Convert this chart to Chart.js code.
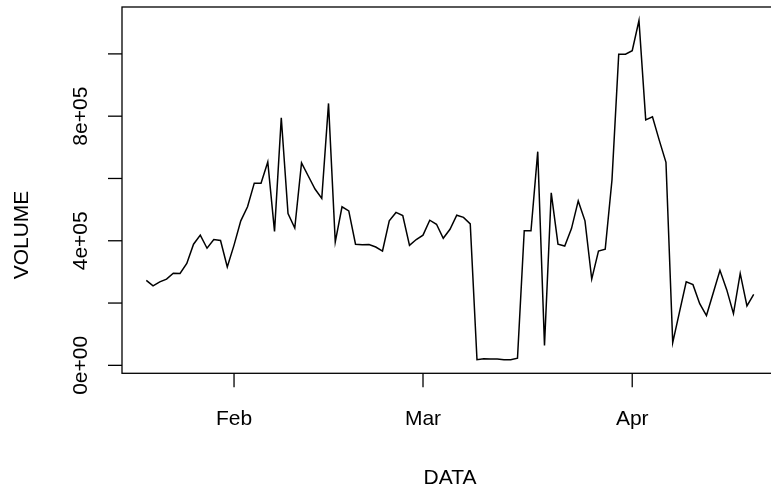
<!DOCTYPE html>
<html>
<head>
<meta charset="utf-8">
<script src="https://cdn.jsdelivr.net/npm/chart.js@4/dist/chart.umd.min.js"></script>
<style>
  html, body { margin: 0; padding: 0; background: #fff; overflow: hidden; width: 771px; height: 492px; }
  canvas { display: block; }
</style>
</head>
<body>
<canvas id="c" width="800" height="492"></canvas>
<script>
// ---- data ----
const dates = [
  '2019-01-19','2019-01-20','2019-01-21','2019-01-22','2019-01-23','2019-01-24','2019-01-25','2019-01-26','2019-01-27','2019-01-28','2019-01-29','2019-01-30','2019-01-31',
  '2019-02-01','2019-02-02','2019-02-03','2019-02-04','2019-02-05','2019-02-06','2019-02-07','2019-02-08','2019-02-09','2019-02-10','2019-02-11','2019-02-12','2019-02-13','2019-02-14',
  '2019-02-15','2019-02-16','2019-02-17','2019-02-18','2019-02-19','2019-02-20','2019-02-21','2019-02-22','2019-02-23','2019-02-24','2019-02-25','2019-02-26','2019-02-27','2019-02-28',
  '2019-03-01','2019-03-02','2019-03-03','2019-03-04','2019-03-05','2019-03-06','2019-03-07','2019-03-08','2019-03-09','2019-03-10','2019-03-11','2019-03-12','2019-03-13','2019-03-14',
  '2019-03-15','2019-03-16','2019-03-17','2019-03-18','2019-03-19','2019-03-20','2019-03-21','2019-03-22','2019-03-23','2019-03-24','2019-03-25','2019-03-26','2019-03-27','2019-03-28',
  '2019-03-29','2019-03-30','2019-03-31',
  '2019-04-01','2019-04-02','2019-04-03','2019-04-04','2019-04-05','2019-04-06','2019-04-07','2019-04-08','2019-04-09','2019-04-10','2019-04-11','2019-04-12','2019-04-13','2019-04-14',
  '2019-04-15','2019-04-16','2019-04-17','2019-04-18','2019-04-19'
];
const volume = [
  273000,255000,268000,277000,296000,295000,327000,389000,418000,376000,404000,401000,316000,
  386000,464000,509000,585000,585000,653000,430000,795000,487000,441000,650000,608000,566000,536000,
  841000,396000,509000,496000,389000,387000,388000,380000,367000,464000,491000,481000,385000,404000,
  418000,466000,453000,408000,437000,482000,475000,454000,18000,21000,20000,20000,18000,18000,
  23000,432000,432000,686000,64000,554000,389000,383000,439000,528000,464000,277000,367000,373000,
  595000,999000,999000,
  1010000,1107000,788000,798000,723000,652000,73000,171000,268000,259000,198000,160000,232000,305000,
  243000,166000,295000,191000,228000
];
const xTickDates = ['2019-02-01','2019-03-01','2019-04-01'];
const xTickLabels = ['Feb','Mar','Apr'];
const yTickValues = [0,200000,400000,600000,800000,1000000];
const yTickLabels = ['0e+00','','4e+05','','8e+05',''];
const xTitle = 'DATA';
const yTitle = 'VOLUME';

// ---- helpers ----
const dayNum = s => { const p = s.split('-').map(Number); return Date.UTC(p[0], p[1]-1, p[2]) / 86400000; };
const xs = dates.map(dayNum);
const pts = xs.map((x, i) => ({ x: x, y: volume[i] }));
const xMin = Math.min(...xs), xMax = Math.max(...xs);
const xPad = (xMax - xMin) * 0.04;
const yMinD = Math.min(...volume), yMaxD = Math.max(...volume);
const yPad = (yMaxD - yMinD) * 0.04;

const FONT = '21px "Liberation Sans", Arial, sans-serif';

const rAxes = {
  id: 'rAxes',
  afterDraw(chart) {
    const ctx = chart.ctx, a = chart.chartArea;
    const sx = chart.scales.x, sy = chart.scales.y;
    ctx.save();
    ctx.strokeStyle = '#000';
    ctx.fillStyle = '#000';
    ctx.lineWidth = 1.3;
    ctx.strokeRect(a.left, a.top, a.right - a.left, a.bottom - a.top);
    // x ticks
    ctx.font = FONT;
    ctx.textAlign = 'center';
    ctx.textBaseline = 'alphabetic';
    xTickDates.forEach((d, i) => {
      const px = sx.getPixelForValue(dayNum(d));
      ctx.beginPath(); ctx.moveTo(px, a.bottom); ctx.lineTo(px, a.bottom + 14); ctx.stroke();
      ctx.fillText(xTickLabels[i], px, 425);
    });
    ctx.fillText(xTitle, (a.left + a.right) / 2, 484);
    // y ticks
    yTickValues.forEach((v, i) => {
      const py = sy.getPixelForValue(v);
      ctx.beginPath(); ctx.moveTo(a.left, py); ctx.lineTo(a.left - 14, py); ctx.stroke();
      if (yTickLabels[i]) {
        ctx.save();
        ctx.translate(87, py);
        ctx.rotate(-Math.PI / 2);
        ctx.fillText(yTickLabels[i], 0, 0);
        ctx.restore();
      }
    });
    ctx.save();
    ctx.translate(28, 235);
    ctx.rotate(-Math.PI / 2);
    ctx.fillText(yTitle, 0, 0);
    ctx.restore();
    ctx.restore();
  }
};

new Chart(document.getElementById('c'), {
  type: 'line',
  data: {
    datasets: [{
      data: pts,
      borderColor: '#000',
      borderWidth: 1.5,
      pointRadius: 0,
      fill: false,
      tension: 0
    }]
  },
  options: {
    responsive: false,
    animation: false,
    events: [],
    layout: { padding: { left: 122, top: 7, right: 22, bottom: 492 - 373.3 } },
    plugins: { legend: { display: false }, tooltip: { enabled: false } },
    scales: {
      x: { type: 'linear', display: false, min: xMin - xPad, max: xMax + xPad },
      y: { type: 'linear', display: false, min: yMinD - yPad, max: yMaxD + yPad }
    }
  },
  plugins: [rAxes]
});
</script>
</body>
</html>
